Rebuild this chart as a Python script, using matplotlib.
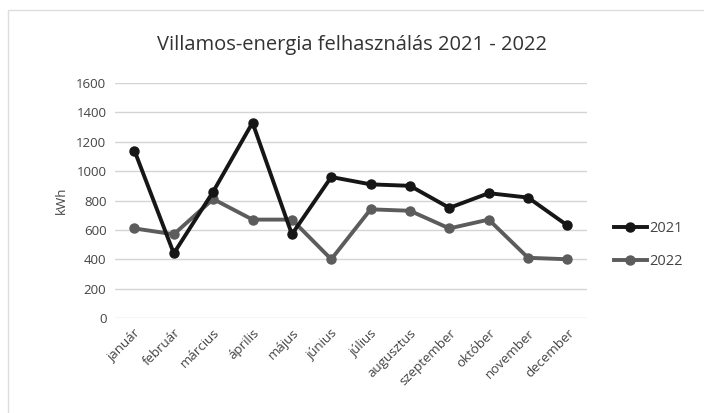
import matplotlib.pyplot as plt
from matplotlib.patches import Rectangle

# monthly electricity use
months = ['január', 'február', 'március', 'április', 'május', 'június',
          'július', 'augusztus', 'szeptember', 'október', 'november', 'december']
kwh_2021 = [1140, 440, 860, 1330, 570, 960, 910, 900, 750, 850, 820, 630]
kwh_2022 = [610, 570, 810, 670, 670, 400, 740, 730, 610, 670, 410, 400]
yticks = [0, 200, 400, 600, 800, 1000, 1200, 1400, 1600]

plt.rcParams['font.family'] = ['Open Sans', 'DejaVu Sans']

fig = plt.figure(figsize=(7.04, 4.13), dpi=100)
ax = fig.add_axes([0.163, 0.23, 0.671, 0.569])

x = list(range(len(months)))
ax.plot(x, kwh_2021, color='#161616', lw=2.8, marker='o', ms=6.5, label='2021', zorder=3)
ax.plot(x, kwh_2022, color='#5c5c5c', lw=2.8, marker='o', ms=6.5, label='2022', zorder=2)

ax.set_xlim(-0.5, len(months) - 0.5)
ax.set_ylim(0, 1600)
ax.set_yticks(yticks)
ax.set_yticklabels([str(v) for v in yticks], fontsize=9.5, color='#444444')
ax.set_xticks(x)
ax.set_xticklabels(months, rotation=45, ha='right', rotation_mode='anchor',
                   fontsize=9.5, color='#444444')
ax.tick_params(length=0, pad=6)
ax.grid(axis='y', color='#d4d4d4', lw=1)
for s in ax.spines.values():
    s.set_visible(False)

ax.set_ylabel('kWh', fontsize=9.5, color='#444444', labelpad=6)
fig.text(0.5, 0.89, 'Villamos-energia felhasználás 2021 - 2022',
         ha='center', va='center', fontsize=14.5, color='#333333')

ax.legend(loc='center left', bbox_to_anchor=(1.03, 0.31), frameon=False,
          fontsize=10.5, handlelength=2.2, handletextpad=0.2, labelspacing=1.25,
          labelcolor='#444444')

# faint outer chart border
fig.patches.append(Rectangle((0.011, -0.05), 1.2, 1.026, transform=fig.transFigure,
                             fill=False, ec='#dddddd', lw=1))

fig.savefig('out.png', dpi=100, facecolor='white')
